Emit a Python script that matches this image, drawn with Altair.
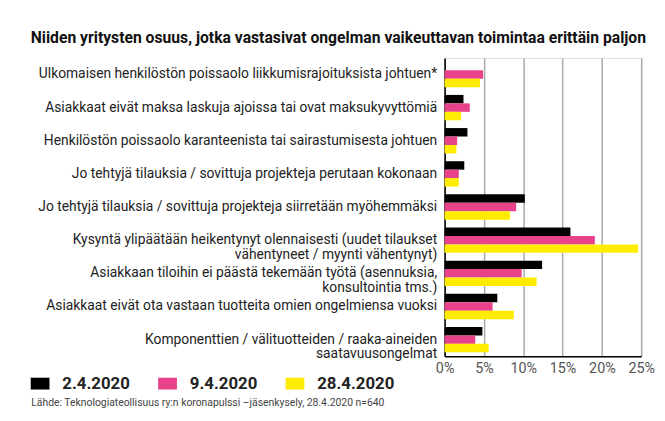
import altair as alt
import pandas as pd

categories = [
    "Ulkomaisen henkilöstön poissaolo liikkumisrajoituksista johtuen*",
    "Asiakkaat eivät maksa laskuja ajoissa tai ovat maksukyvyttömiä",
    "Henkilöstön poissaolo karanteenista tai sairastumisesta johtuen",
    "Jo tehtyjä tilauksia / sovittuja projekteja perutaan kokonaan",
    "Jo tehtyjä tilauksia / sovittuja projekteja siirretään myöhemmäksi",
    "Kysyntä ylipäätään heikentynyt olennaisesti (uudet tilaukset|vähentyneet / myynti vähentynyt)",
    "Asiakkaan tiloihin ei päästä tekemään työtä (asennuksia,|konsultointia tms.)",
    "Asiakkaat eivät ota vastaan tuotteita omien ongelmiensa vuoksi",
    "Komponenttien / välituotteiden / raaka-aineiden|saatavuusongelmat",
]
dates = ["2.4.2020", "9.4.2020", "28.4.2020"]
v_0204 = [None, 2.4, 2.9, 2.5, 10.2, 16.0, 12.4, 6.7, 4.8]
v_0904 = [4.9, 3.2, 1.6, 1.8, 9.1, 19.1, 9.8, 6.1, 3.9]
v_2804 = [4.5, 2.1, 1.5, 1.8, 8.3, 24.6, 11.7, 8.8, 5.6]
colors = ["#000000", "#E8428A", "#FFEC00"]
x_ticks = [0, 5, 10, 15, 20, 25]

title_text = "Niiden yritysten osuus, jotka vastasivat ongelman vaikeuttavan toimintaa erittäin paljon"
source_text = "Lähde: Teknologiateollisuus ry:n koronapulssi –jäsenkysely, 28.4.2020 n=640"

rows = []
for d, vals in zip(dates, [v_0204, v_0904, v_2804]):
    for c, v in zip(categories, vals):
        if v is not None:
            rows.append({"cat": c, "date": d, "value": v})
df = pd.DataFrame(rows)

FONT = "Roboto"

chart = alt.Chart(df).mark_bar().encode(
    y=alt.Y(
        "cat:N",
        sort=categories,
        scale=alt.Scale(paddingInner=0.235, paddingOuter=0.1175),
        axis=alt.Axis(
            title=None,
            labelExpr="split(datum.label, '|')",
            ticks=False,
            labelPadding=8,
            labelFontSize=14,
            labelFont=FONT,
            labelLimit=600,
            labelColor="#222222",
            labelLineHeight=15,
            domainColor="black",
            domainWidth=1.5,
        ),
    ),
    x=alt.X(
        "value:Q",
        scale=alt.Scale(domain=[0, 25], nice=False),
        axis=alt.Axis(
            values=x_ticks,
            labelExpr="datum.value + '%'",
            labelFlush=False,
            ticks=False,
            labelPadding=5,
            labelFontSize=14.5,
            labelFont=FONT,
            labelColor="#555555",
            grid=True,
            gridColor="#aaaaaa",
            gridWidth=1.5,
            domainColor="black",
            domainWidth=1.5,
            title=source_text,
            titleX=-419,
            titleY=47,
            titleAlign="left",
            titleBaseline="middle",
            titleFont=FONT,
            titleFontSize=10.5,
            titleFontWeight="normal",
            titleColor="#444444",
        ),
    ),
    yOffset=alt.YOffset("date:N", sort=dates),
    color=alt.Color(
        "date:N",
        sort=dates,
        scale=alt.Scale(domain=dates, range=colors),
        legend=alt.Legend(
            title=None,
            orient="none",
            legendX=-419,
            legendY=320,
            direction="horizontal",
            columns=3,
            gridAlign="all",
            symbolType="M-1,-0.63L1,-0.63L1,0.63L-1,0.63Z",
            symbolSize=361,
            symbolStrokeWidth=0,
            labelFontSize=17,
            labelFontWeight="bold",
            labelFont=FONT,
            labelColor="#222222",
            labelOffset=13,
            columnPadding=18,
        ),
    ),
).properties(
    width=199,
    height=302,
    title=alt.TitleParams(
        text=title_text,
        anchor="start",
        frame="group",
        dx=-419,
        offset=12,
        font=FONT,
        fontSize=15.9,
        fontWeight="bold",
        color="#111111",
    ),
    autosize=alt.AutoSizeParams(type="none"),
    padding={"left": 442, "top": 48, "right": 16, "bottom": 55},
).configure_view(
    stroke="black", strokeWidth=1.5
).configure(background="white")

chart.save("out.html", embed_options={"renderer": "svg", "actions": False})
